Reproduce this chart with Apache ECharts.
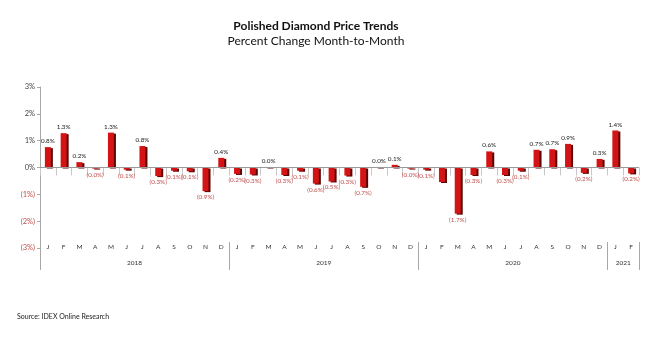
<!DOCTYPE html>
<html>
<head>
<meta charset="utf-8">
<script src="https://cdn.jsdelivr.net/npm/echarts@6/dist/echarts.min.js"></script>
<style>
  html, body { margin: 0; padding: 0; background: #ffffff; }
  #chart { width: 645px; height: 340px; }
</style>
</head>
<body>
<div id="chart"></div>
<script>
// Month-to-month percent change, Jan 2018 – Feb 2021
const months = [
  'J','F','M','A','M','J','J','A','S','O','N','D',
  'J','F','M','A','M','J','J','A','S','O','N','D',
  'J','F','M','A','M','J','J','A','S','O','N','D',
  'J','F'
];
const years = ['2018', '2019', '2020', '2021'];
const monthsPerYear = [12, 12, 12, 2];

const change2018 = [0.76, 1.28, 0.20, -0.04, 1.30, -0.08, 0.80, -0.32, -0.12, -0.14, -0.88, 0.36];
const change2019 = [-0.24, -0.26, 0.02, -0.28, -0.12, -0.60, -0.52, -0.30, -0.72, 0.02, 0.10, -0.04];
const change2020 = [-0.08, -0.54, -1.72, -0.28, 0.60, -0.28, -0.12, 0.66, 0.68, 0.88, -0.20, 0.32];
const change2021 = [1.38, -0.22];

// months whose value is not annotated (index into the full series)
const unlabeled = [25];

const yTicks = [-3, -2, -1, 0, 1, 2, 3];

const values = [].concat(change2018, change2019, change2020, change2021);

const FONT = 'Lato';
const POS_TEXT = '#222222';
const NEG_TEXT = '#c0504d';

function pctLabel(v) {
  const s = Math.abs(v).toFixed(1) + '%';
  return v < 0 ? '(' + s + ')' : s;
}

// Year band axis: one point per month boundary, year name at the middle of its span
const boundaries = [0];
monthsPerYear.forEach(n => boundaries.push(boundaries[boundaries.length - 1] + n));
const yearPoints = [];
for (let i = 0; i <= months.length; i++) yearPoints.push('');
years.forEach((y, k) => {
  yearPoints[(boundaries[k] + boundaries[k + 1]) / 2] = y;
});

const barData = values.map((v, i) => ({
  value: v,
  label: {
    show: unlabeled.indexOf(i) < 0,
    position: v < 0 ? 'bottom' : 'top',
    color: v < 0 ? NEG_TEXT : POS_TEXT
  }
}));

const chart = echarts.init(document.getElementById('chart'), null, { renderer: 'canvas' });

chart.setOption({
  backgroundColor: '#ffffff',
  animation: false,
  title: [
    {
      text: 'Polished Diamond Price Trends',
      left: 311, top: 15, textAlign: 'center',
      textStyle: { fontFamily: FONT, fontSize: 12, fontWeight: 'bold', color: '#111' }
    },
    {
      text: 'Percent Change Month-to-Month',
      left: 311, top: 30, textAlign: 'center',
      textStyle: { fontFamily: FONT, fontSize: 12, fontWeight: 'normal', color: '#111' }
    },
    {
      text: 'Source: IDEX Online Research',
      left: 12, top: 308,
      textStyle: { fontFamily: FONT, fontSize: 7, fontWeight: 'normal', color: '#222' }
    }
  ],
  grid: { left: 40, right: 6, top: 87, bottom: 92, containLabel: false },
  xAxis: [
    {
      type: 'category',
      data: months,
      position: 'bottom',
      offset: -6,
      boundaryGap: true,
      axisLine: { show: false },
      axisTick: { show: true, length: 8, lineStyle: { color: '#c8c8c8', width: 1 } },
      axisLabel: { interval: 0, margin: 1, fontFamily: FONT, fontSize: 6.5, color: '#333' },
      splitLine: { show: false }
    },
    {
      type: 'category',
      data: yearPoints,
      position: 'bottom',
      offset: -6,
      boundaryGap: false,
      axisLine: { show: false },
      axisTick: {
        show: true, length: 28,
        interval: (i) => boundaries.indexOf(i) >= 0,
        lineStyle: { color: '#a8a8a8', width: 1 }
      },
      axisLabel: { interval: 0, margin: 17, fontFamily: FONT, fontSize: 6.5, color: '#333',
        showMinLabel: true, showMaxLabel: true },
      splitLine: { show: false }
    }
  ],
  yAxis: {
    type: 'value',
    min: yTicks[0],
    max: yTicks[yTicks.length - 1],
    interval: 1,
    axisLine: { show: true, lineStyle: { color: '#a8a8a8', width: 1 } },
    axisTick: { show: true, length: 3, lineStyle: { color: '#a8a8a8' } },
    splitLine: { show: false },
    axisLabel: {
      margin: 5,
      fontFamily: FONT,
      fontSize: 7.5,
      formatter: (v) => v < 0 ? '(' + Math.abs(v) + '%)' : v + '%',
      color: (v) => Number(v) < 0 ? NEG_TEXT : '#444'
    }
  },
  series: [
    {
      type: 'bar',
      xAxisIndex: 0,
      data: barData,
      barWidth: 6,
      itemStyle: {
        color: '#d41414',
        shadowColor: '#5a0606',
        shadowOffsetX: 2,
        shadowOffsetY: 1,
        shadowBlur: 0
      },
      label: {
        fontFamily: FONT,
        fontSize: 6.3,
        distance: 3,
        formatter: (p) => pctLabel(p.value)
      },
      markLine: {
        silent: true,
        symbol: 'none',
        label: { show: false },
        lineStyle: { color: '#9a9a9a', type: 'solid', width: 1 },
        data: [{ yAxis: 0 }]
      },
      z: 3
    }
  ]
});
</script>
</body>
</html>
